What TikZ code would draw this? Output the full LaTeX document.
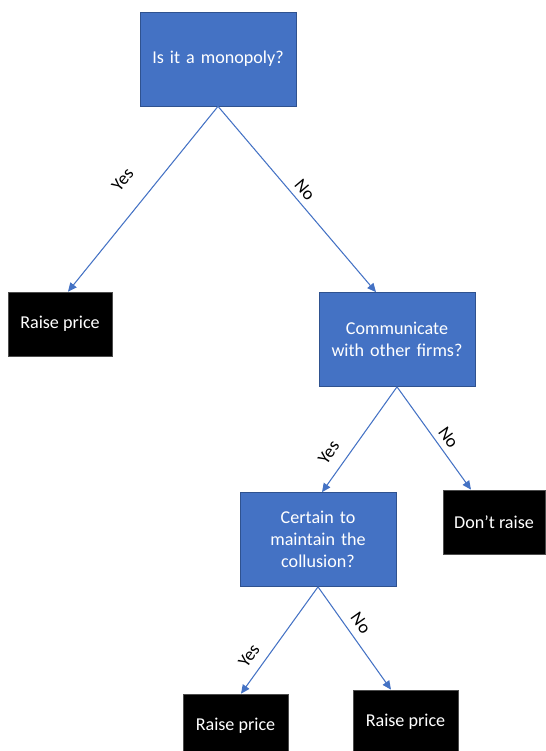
\documentclass[tikz,border=0pt]{standalone}
\usepackage{fontspec}
\setmainfont{Carlito}
\usetikzlibrary{arrows.meta}
\definecolor{qblue}{HTML}{4472C4}
\definecolor{qborder}{HTML}{2F528F}

\begin{document}
\begin{tikzpicture}[x=0.02cm,y=-0.02cm,
    question/.style={draw=qborder,fill=qblue,text=white,align=center,
        minimum width=3.12cm,minimum height=1.88cm,text width=2.8cm,
        font=\fontsize{10.3}{12.5}\selectfont},
    answer/.style={draw=black!70,fill=black,text=white,align=center,
        minimum width=2.08cm,minimum height=1.28cm,
        font=\fontsize{10.3}{12.5}\selectfont},
    branch/.style={draw=qblue,line width=0.6pt,-{Triangle[length=5pt,width=4.5pt]}},
    lbl/.style={sloped,font=\fontsize{10.3}{12.5}\selectfont}]
            \useasboundingbox (0,0) rectangle (545,751);
            \node[question] (A) at (218,59) {Is it a monopoly?};
            \node[answer] (B) at (60,324) {Raise price};
            \node[question] (C) at (397,339.5) {Communicate\\with other firms?};
            \node[question] (D) at (318,539.5) {Certain to\\maintain the\\collusion?};
            \node[answer,minimum width=2.04cm] (E) at (494,522) {Don’t raise};
            \node[answer,minimum width=2.1cm] (F) at (235.5,726) {Raise price};
            \node[answer,minimum width=2.1cm] (G) at (405.5,722) {Raise price};
            \draw (A.south) edge[branch] node[lbl,pos=0.49,above=9pt]{Yes} ([xshift=0.16cm]B.north);
            \draw (A.south) edge[branch] node[lbl,pos=0.49,above]{No} ([xshift=-0.42cm]C.north);
            \draw (C.south) edge[branch] node[lbl,pos=0.72,above=3pt]{Yes} ([xshift=0.08cm]D.north);
            \draw (C.south) edge[branch] node[lbl,pos=0.56,above]{No} ([xshift=-0.46cm]E.north);
            \draw (D.south) edge[branch] node[lbl,pos=0.73,above=2pt]{Yes} ([xshift=0.11cm]F.north);
            \draw (D.south) edge[branch] node[lbl,pos=0.43,above=1pt]{No} ([xshift=-0.29cm]G.north);
        \end{tikzpicture}
\end{document}
